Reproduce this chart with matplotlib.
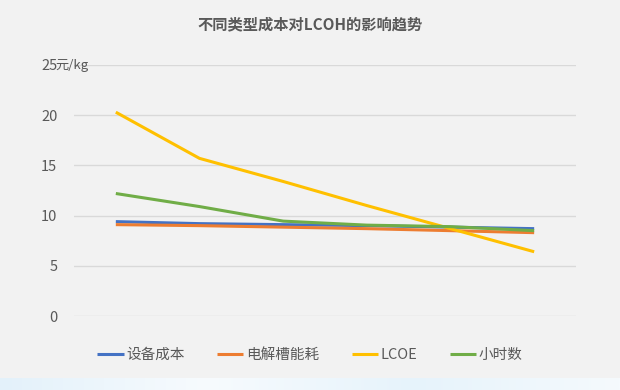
import numpy as np
import matplotlib
matplotlib.use('Agg')
import matplotlib.pyplot as plt
from matplotlib.patches import Rectangle

plt.rcParams['font.family'] = ['Noto Sans CJK SC', 'DejaVu Sans']

# data (6 unlabeled category steps)
steps = [0, 1, 2, 3, 4, 5]
equip_cost = [9.4, 9.2, 9.1, 9.0, 8.85, 8.7]
elec_energy = [9.1, 9.0, 8.85, 8.7, 8.5, 8.3]
lcoe = [20.3, 15.7, 13.4, 11.0, 8.7, 6.4]
hours = [12.2, 10.9, 9.45, 9.05, 8.9, 8.5]

series = [
    ('设备成本', equip_cost, '#4472c4'),
    ('电解槽能耗', elec_energy, '#ed7d31'),
    ('LCOE', lcoe, '#ffc000'),
    ('小时数', hours, '#70ad47'),
]

text_color = '#595959'
bg = '#f2f2f2'

fig = plt.figure(figsize=(6.2, 3.9), dpi=100, facecolor=bg)
ax = fig.add_axes([74 / 620, 1 - 316 / 390, 502 / 620, 251 / 390])
ax.set_facecolor(bg)

for name, vals, color in series:
    ax.plot(steps, vals, color=color, lw=2.2, label=name, solid_capstyle='butt')

ax.set_xlim(-0.5, 5.5)
ax.set_ylim(0, 25)
ax.set_yticks([0, 5, 10, 15, 20, 25])
ax.set_xticks([])
ax.grid(axis='y', color='#d9d9d9', lw=1)
ax.set_axisbelow(True)
for s in ax.spines.values():
    s.set_visible(False)
ax.tick_params(axis='y', length=0, pad=12, labelsize=10.5, labelcolor=text_color)

fig.text(55 / 620, 1 - 66 / 390, '元/kg', fontsize=9.5, color=text_color,
         ha='left', va='center')

fig.text(0.5, 1 - 24 / 390, '不同类型成本对LCOH的影响趋势', fontsize=11,
         fontweight='bold', color=text_color, ha='center', va='center')

leg = fig.legend(loc='center', bbox_to_anchor=(0.5, 1 - 355 / 390), ncol=4,
                 frameon=False, fontsize=10.5, handlelength=1.8,
                 handletextpad=0.2, columnspacing=2.2, labelcolor=text_color)

# light decorative band at the bottom edge
band = fig.add_axes([0, 0, 1, 12 / 390])
grad = np.linspace(0, 1, 256).reshape(1, -1)
band.imshow(grad, aspect='auto', cmap=matplotlib.colors.LinearSegmentedColormap.from_list(
    'b', ['#e3f1fa', '#f7fbfe', '#e6f3fb', '#f5fafd']), extent=(0, 1, 0, 1))
band.set_axis_off()

fig.savefig('out.png', dpi=100, facecolor=bg)
plt.close(fig)
